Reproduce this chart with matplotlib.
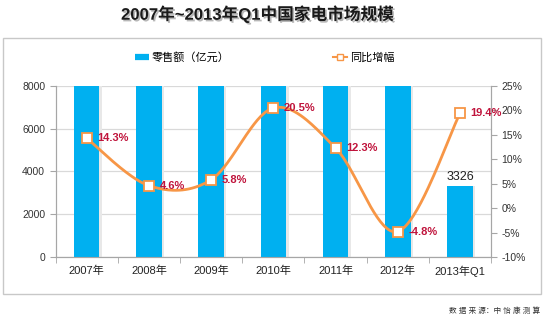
import numpy as np
import matplotlib.pyplot as plt
from matplotlib.lines import Line2D
from matplotlib.patches import Rectangle
import matplotlib.patheffects as pe

plt.rcParams['font.family'] = ['Liberation Sans', 'Noto Sans CJK SC', 'DejaVu Sans']

# Market data
years = ['2007年', '2008年', '2009年', '2010年', '2011年', '2012年', '2013年Q1']
sales = [8770, 9170, 9700, 11690, 13130, 12500, 3326]      # 零售额（亿元）
growth = [14.3, 4.6, 5.8, 20.5, 12.3, -4.8, 19.4]          # 同比增幅 (%)

bar_color = '#00B0F0'
line_color = '#F79646'
label_color = '#C0143C'
axis_gray = '#A6A6A6'


def smooth(xs, ys, n=40):
    # Bezier smoothing in the style of spreadsheet "smoothed line" charts
    xs = np.asarray(xs, float)
    ys = np.asarray(ys, float)
    px = np.concatenate([[xs[0]], xs, [xs[-1]]])
    py = np.concatenate([[ys[0]], ys, [ys[-1]]])
    out_x, out_y = [], []
    t = np.linspace(0, 1, n)
    for i in range(1, len(px) - 2):
        p0 = np.array([px[i], py[i]])
        p3 = np.array([px[i + 1], py[i + 1]])
        p1 = p0 + (np.array([px[i + 1], py[i + 1]]) - np.array([px[i - 1], py[i - 1]])) / 6
        p2 = p3 - (np.array([px[i + 2], py[i + 2]]) - np.array([px[i], py[i]])) / 6
        b = ((1 - t) ** 3)[:, None] * p0 + (3 * (1 - t) ** 2 * t)[:, None] * p1 \
            + (3 * (1 - t) * t ** 2)[:, None] * p2 + (t ** 3)[:, None] * p3
        out_x.extend(b[:, 0])
        out_y.extend(b[:, 1])
    return out_x, out_y


fig = plt.figure(figsize=(5.5, 3.22), dpi=100)
fig.patch.set_facecolor('white')

# outer frame
fig.patches.append(Rectangle((0.0055, 0.087), 0.978, 0.795, transform=fig.transFigure,
                             fill=False, edgecolor='#C8C8C8', linewidth=1.0))

ax = fig.add_axes([0.101, 0.202, 0.792, 0.531])
x = np.arange(len(years))

# bars with a faint shadow
ax.bar(x + 0.04, sales, width=0.41, color='#E8E8E8', zorder=2)
ax.bar(x, sales, width=0.41, color=bar_color, zorder=3)
ax.text(x[-1], sales[-1] + 150, str(sales[-1]), ha='center', va='bottom',
        fontsize=9, color='#222222', zorder=4)

ax.set_xlim(-0.5, len(years) - 0.5)
ax.set_ylim(0, 8000)
ax.set_yticks(range(0, 8001, 2000))
ax.set_xticks(x)
ax.set_xticklabels(years, fontsize=8, color='#222222')
ax.set_xticks(np.arange(-0.5, len(years), 1), minor=True)
ax.tick_params(axis='x', which='major', length=0, pad=6)
ax.tick_params(axis='x', which='minor', length=4, color=axis_gray, direction='out')
ax.tick_params(axis='y', length=4, color=axis_gray, labelsize=7.5, labelcolor='#333333')
ax.yaxis.grid(True, color='#D9D9D9', linewidth=0.9)
ax.set_axisbelow(True)
for side in ['left', 'bottom', 'right']:
    ax.spines[side].set_color(axis_gray)
ax.spines['top'].set_visible(False)

# growth line on the right axis
ax2 = ax.twinx()
sx, sy = smooth(x, growth)
ax2.plot(sx, sy, color=line_color, linewidth=2, zorder=5)
ax2.plot(x, growth, linestyle='none', marker='s', markersize=6.5,
         markerfacecolor='white', markeredgecolor=line_color, markeredgewidth=1.3, zorder=6)
for xi, g in zip(x, growth):
    ax2.text(xi + 0.17, g, f'{g}%', ha='left', va='center', fontsize=8,
             fontweight='bold', color=label_color, zorder=7)
ax2.set_ylim(-10, 25)
ax2.set_yticks(range(-10, 26, 5))
ax2.set_yticklabels([f'{v}%' for v in range(-10, 26, 5)])
ax2.tick_params(axis='y', length=4, color=axis_gray, labelsize=7.5, labelcolor='#333333')
for side in ['left', 'bottom', 'right']:
    ax2.spines[side].set_color(axis_gray)
ax2.spines['top'].set_visible(False)

# legend
handles = [Line2D([0], [0], color=bar_color, linewidth=4.5, solid_capstyle='butt'),
           Line2D([0], [0], color=line_color, linewidth=1.5, marker='s', markersize=5,
                  markerfacecolor='white', markeredgecolor=line_color)]
fig.legend(handles, ['零售额（亿元）', '同比增幅'], loc='center',
           bbox_to_anchor=(0.481, 1 - 57 / 322), ncol=2, frameon=False,
           fontsize=8, handlelength=1.3, handletextpad=0.2, columnspacing=9.3)

# title
fig.text(0.467, 1 - 14 / 322, '2007年~2013年Q1中国家电市场规模', ha='center', va='center',
         fontsize=12, fontweight='bold', color='#1A1A1A',
         path_effects=[pe.withSimplePatchShadow(offset=(1.2, -1.2), shadow_rgbFace='#888888', alpha=0.6)])

# source note
fig.text(540 / 550, 1 - 311 / 322, '数 据 来 源：中 怡 康 测 算', ha='right', va='center',
         fontsize=5.5, color='#333333')

fig.savefig('out.png', dpi=100, facecolor='white')
